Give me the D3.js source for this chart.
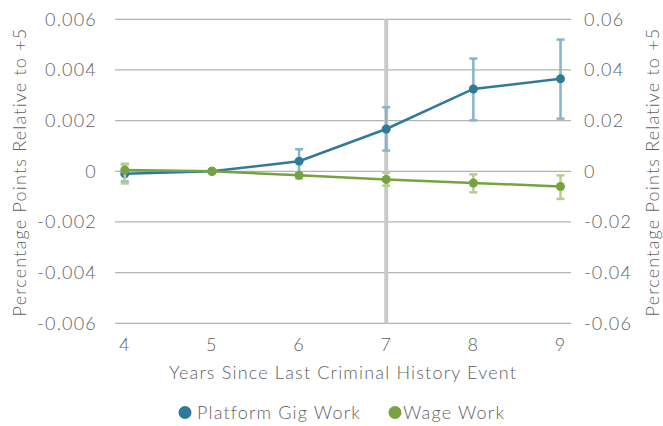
<!DOCTYPE html>
<html><head><meta charset="utf-8">
<script src="https://cdn.jsdelivr.net/npm/d3@7"></script>
<style>
html,body{margin:0;padding:0;background:#fff;}
text{font-family:Lato,"Open Sans",sans-serif;font-weight:300;fill:#5f5f5f;font-size:18px;}
</style></head>
<body><svg id="c" width="663" height="426"></svg>
<script>
const years = [4, 5, 6, 7, 8, 9];
const leftTicks = [-0.006, -0.004, -0.002, 0, 0.002, 0.004, 0.006];
const rightTicks = [-0.06, -0.04, -0.02, 0, 0.02, 0.04, 0.06];
const gigValues = [-0.0001, 0, 0.0004, 0.00167, 0.00325, 0.00365];
const gigLow    = [-0.0004, null, -0.00008, 0.00082, 0.00201, 0.00208];
const gigHigh   = [0.00028, null, 0.00087, 0.00253, 0.00445, 0.0052];
const wageValues = [0.0005, 0, -0.0016, -0.0032, -0.0046, -0.006];
const wageLow    = [-0.0048, null, -0.0028, -0.0057, -0.0083, -0.0109];
const wageHigh   = [0.003, null, -0.0004, -0.0005, -0.0012, -0.0016];
const markerYear = 7;
const seriesNames = ["Platform Gig Work", "Wage Work"];
const xTitle = "Years Since Last Criminal History Event";
const yTitle = "Percentage Points Relative to +5";

const svg = d3.select("#c");
const x = d3.scaleLinear().domain([4, 9]).range([124.8, 560.5]);
const yL = d3.scaleLinear().domain([-0.006, 0.006]).range([323.3, 19.3]);
const yR = d3.scaleLinear().domain([-0.06, 0.06]).range([323.3, 19.3]);
const gx0 = 115, gx1 = 571;

// gridlines
svg.append("g").selectAll("line").data(leftTicks).join("line")
  .attr("x1", gx0).attr("x2", gx1)
  .attr("y1", d => yL(d)).attr("y2", d => yL(d))
  .attr("stroke", "#b3b3b3").attr("stroke-width", 1.3);

// left tick labels
svg.append("g").selectAll("text").data(leftTicks).join("text")
  .attr("x", 97).attr("y", d => yL(d)).attr("dy", "0.35em")
  .attr("text-anchor", "end")
  .text(d => d === 0 ? "0" : d.toFixed(3));
// right tick labels
svg.append("g").selectAll("text").data(rightTicks).join("text")
  .attr("x", 584).attr("y", d => yR(d)).attr("dy", "0.35em")
  .attr("text-anchor", "start")
  .text(d => d === 0 ? "0" : d.toFixed(2));
// x tick labels
svg.append("g").selectAll("text").data(years).join("text")
  .attr("x", d => x(d)).attr("y", 345).attr("dy", "0.35em")
  .attr("text-anchor", "middle")
  .text(d => d);

// vertical marker
svg.append("line").attr("x1", x(markerYear)).attr("x2", x(markerYear))
  .attr("y1", yL(0.006)).attr("y2", yL(-0.006))
  .attr("stroke", "#c9c9c9").attr("stroke-width", 4);

// axis titles
const xt = svg.append("text").attr("x", 343).attr("y", 373).attr("dy", "0.35em")
  .attr("text-anchor", "middle").text(xTitle);
svg.append("text").attr("transform", "translate(20,172) rotate(-90)")
  .attr("dy", "0.35em").attr("text-anchor", "middle").text(yTitle);
svg.append("text").attr("transform", "translate(653,172) rotate(-90)")
  .attr("dy", "0.35em").attr("text-anchor", "middle").text(yTitle);

function drawSeries(vals, lo, hi, y, color, errColor) {
  const g = svg.append("g");
  const errs = years.map((yr, i) => ({yr, lo: lo[i], hi: hi[i]})).filter(d => d.lo !== null);
  const eg = g.append("g").attr("stroke", errColor).attr("stroke-width", 2.5);
  eg.selectAll(".v").data(errs).join("line")
    .attr("x1", d => x(d.yr)).attr("x2", d => x(d.yr))
    .attr("y1", d => y(d.lo)).attr("y2", d => y(d.hi));
  eg.selectAll(".t").data(errs).join("line")
    .attr("x1", d => x(d.yr) - 4).attr("x2", d => x(d.yr) + 4)
    .attr("y1", d => y(d.hi)).attr("y2", d => y(d.hi));
  eg.selectAll(".b").data(errs).join("line")
    .attr("x1", d => x(d.yr) - 4).attr("x2", d => x(d.yr) + 4)
    .attr("y1", d => y(d.lo)).attr("y2", d => y(d.lo));
  const pts = years.map((yr, i) => [yr, vals[i]]);
  g.append("path").datum(pts)
    .attr("d", d3.line().x(d => x(d[0])).y(d => y(d[1])))
    .attr("fill", "none").attr("stroke", color).attr("stroke-width", 2.5);
  g.selectAll("circle").data(pts).join("circle")
    .attr("cx", d => x(d[0])).attr("cy", d => y(d[1])).attr("r", 4.5)
    .attr("fill", color);
}
drawSeries(gigValues, gigLow, gigHigh, yL, "#2f7a98", "#86b5c8");
drawSeries(wageValues, wageLow, wageHigh, yR, "#76a33f", "#b4cf8f");

// legend
const legend = [
  {name: seriesNames[0], color: "#2f7a98", cx: 185, tx: 197},
  {name: seriesNames[1], color: "#76a33f", cx: 395, tx: 403}
];
const lg = svg.append("g");
lg.selectAll("circle").data(legend).join("circle")
  .attr("cx", d => d.cx).attr("cy", 412.5).attr("r", 6.5).attr("fill", d => d.color);
lg.selectAll("text").data(legend).join("text")
  .attr("x", d => d.tx).attr("y", 412.5).attr("dy", "0.35em")
  .text(d => d.name);

// widen the light font to match the reference's wide typeface
const w = xt.node().getComputedTextLength();
const ls = Math.max(0, (347 - w) / (xTitle.length - 1));
svg.selectAll("text").style("letter-spacing", ls + "px");
</script></body></html>
